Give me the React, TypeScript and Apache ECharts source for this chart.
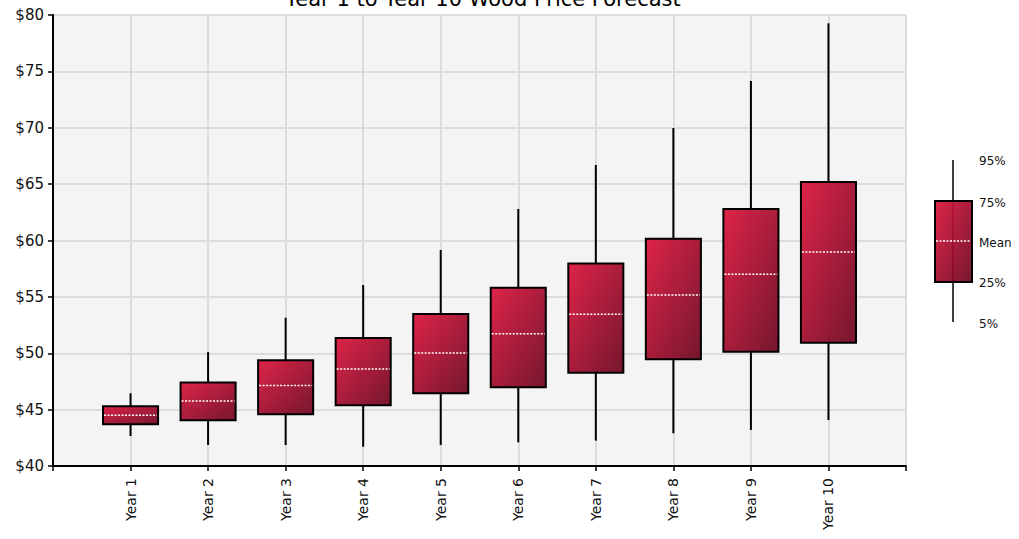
import React, { useEffect, useRef } from "react";
import * as echarts from "echarts";

const categories = ["Year 1", "Year 2", "Year 3", "Year 4", "Year 5", "Year 6", "Year 7", "Year 8", "Year 9", "Year 10"];
const p5 = [42.66, 41.86, 41.86, 41.71, 41.86, 42.1, 42.25, 42.9, 43.2, 44.08];
const p25 = [43.7, 44.05, 44.58, 45.38, 46.45, 46.98, 48.28, 49.46, 50.14, 50.94];
const mean = [44.5, 45.77, 47.13, 48.6, 50.02, 51.74, 53.45, 55.17, 57.0, 58.98];
const p75 = [45.3, 47.4, 49.37, 51.35, 53.48, 55.82, 57.95, 60.16, 62.8, 65.19];
const p95 = [46.45, 50.1, 53.15, 56.05, 59.16, 62.8, 66.7, 69.98, 74.15, 79.26];
const legendLabels = ["95%", "75%", "Mean", "25%", "5%"];
const titleText = "Year 1 to Year 10 Wood Price Forecast";

const FONT = "DejaVu Sans";
const boxFill = {
  type: "linear",
  x: 0,
  y: 0,
  x2: 1,
  y2: 1,
  colorStops: [
    { offset: 0, color: "rgba(220,20,60,0.93)" },
    { offset: 1, color: "rgba(108,6,31,0.93)" },
  ],
};

export default function App() {
  const ref = useRef<HTMLDivElement>(null);
  useEffect(() => {
    const chart = echarts.init(ref.current!, null, { renderer: "svg" });
    const data = categories.map((_, i) => [i + 1, p5[i], p25[i], mean[i], p75[i], p95[i]]);
    const legendY = [161, 203, 243, 283, 324];
    chart.setOption({
      animation: false,
      backgroundColor: "#ffffff",
      grid: { left: 53, right: 113, top: 15, bottom: 73, show: true, backgroundColor: "#f4f4f4", borderWidth: 0 },
      xAxis: {
        type: "value",
        min: 0,
        max: 11,
        interval: 1,
        axisLine: { show: true, onZero: false, lineStyle: { color: "#000", width: 2 } },
        axisTick: { show: true, length: 5, lineStyle: { color: "#000", width: 1.5 } },
        axisLabel: {
          rotate: 90,
          margin: 12,
          color: "#111",
          fontFamily: FONT,
          fontSize: 14,
          formatter: (v: number) => (v >= 1 && v <= categories.length ? categories[v - 1] : ""),
        },
        splitLine: { show: true, lineStyle: { color: "#dcdcdc", width: 2 } },
      },
      yAxis: {
        type: "value",
        min: 40,
        max: 80,
        interval: 5,
        axisLine: { show: true, lineStyle: { color: "#000", width: 2 } },
        axisTick: { show: true, length: 5, lineStyle: { color: "#000", width: 1.5 } },
        axisLabel: { margin: 9, color: "#111", fontFamily: FONT, fontSize: 15, formatter: (v: number) => "$" + v },
        splitLine: { show: true, lineStyle: { color: "#dcdcdc", width: 2 } },
      },
      series: [
        {
          type: "custom",
          data,
          encode: { x: 0, y: [1, 2, 3, 4, 5] },
          renderItem: (params: any, api: any) => {
            const x = api.value(0);
            const lo = api.coord([x, api.value(1)]);
            const q1 = api.coord([x, api.value(2)]);
            const mn = api.coord([x, api.value(3)]);
            const q3 = api.coord([x, api.value(4)]);
            const hi = api.coord([x, api.value(5)]);
            const w = api.size([1, 0])[0] * 0.71;
            const cx = lo[0];
            return {
              type: "group",
              children: [
                { type: "line", shape: { x1: cx, y1: hi[1], x2: cx, y2: q3[1] }, style: { stroke: "#000", lineWidth: 2 } },
                { type: "line", shape: { x1: cx, y1: q1[1], x2: cx, y2: lo[1] }, style: { stroke: "#000", lineWidth: 2 } },
                {
                  type: "rect",
                  shape: { x: cx - w / 2, y: q3[1], width: w, height: q1[1] - q3[1] },
                  style: { fill: boxFill, stroke: "#000", lineWidth: 2 },
                },
                {
                  type: "line",
                  shape: { x1: cx - w / 2 + 1, y1: mn[1], x2: cx + w / 2 - 1, y2: mn[1] },
                  style: { stroke: "#ffffff", lineWidth: 1.5, lineDash: [2, 1.5] },
                },
              ],
            };
          },
        },
      ],
      graphic: [
        {
          type: "text",
          x: 483,
          y: 9,
          style: { text: titleText, font: `21px "${FONT}"`, fill: "#000", textAlign: "center", textVerticalAlign: "bottom" },
        },
        { type: "line", shape: { x1: 953, y1: 160, x2: 953, y2: 322 }, style: { stroke: "#000", lineWidth: 1.5 } },
        {
          type: "rect",
          shape: { x: 935, y: 201, width: 37, height: 81 },
          style: { fill: boxFill, stroke: "#000", lineWidth: 2 },
        },
        { type: "line", shape: { x1: 936, y1: 241, x2: 971, y2: 241 }, style: { stroke: "#fff", lineWidth: 1.5, lineDash: [2, 1.5] } },
        ...legendLabels.map((t, i) => ({
          type: "text",
          x: 979,
          y: legendY[i],
          style: { text: t, font: `12px "${FONT}"`, fill: "#111", textAlign: "left", textVerticalAlign: "middle" },
        })),
      ],
    });
    return () => chart.dispose();
  }, []);
  return <div ref={ref} style={{ position: "absolute", left: 0, top: 0, width: 1019, height: 539 }} />;
}
